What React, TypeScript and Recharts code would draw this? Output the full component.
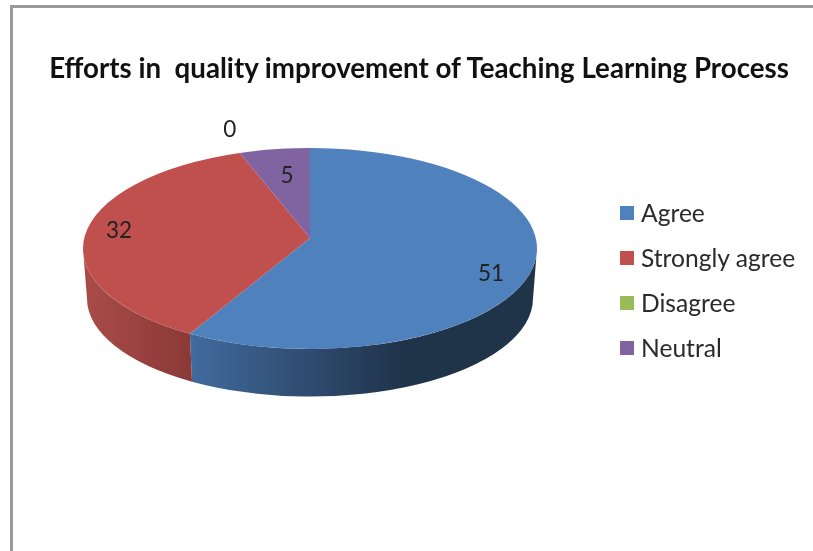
import React from "react";
import { PieChart, Pie, Legend } from "recharts";

const categories = ["Agree", "Strongly agree", "Disagree", "Neutral"];
const values = [51, 32, 0, 5];
const colors = ["#4f81bd", "#c0504d", "#9bbb59", "#8064a2"];
const chartTitle = "Efforts in  quality improvement of Teaching Learning Process";

const data = categories.map((name, i) => ({ name, value: values[i], fill: colors[i] }));

// Drawing style of the tilted disc
const SQUASH = 100.5 / 227;
const APEX_LIFT = 10.5;
const DEPTH = 50;
const BOTTOM_RX_INSET = 4;
const BOTTOM_RY_INSET = 2.5;
const SKEW = 6.9;
const SIDE_STOPS: [number, string][][] = [
  [[0, "#416b9d"], [0.4, "#2c4668"], [0.62, "#1f3349"], [1, "#1f3349"]],
  [[0, "#a94c49"], [1, "#8a3937"]],
  [[0, "#7c9647"], [1, "#7c9647"]],
  [[0, "#665082"], [1, "#665082"]],
];
// Radial placement of each value label (fraction of the rim along x, y)
const LABEL_FIT: [number, number][] = [
  [0.805, 1.77],
  [0.857, 1.0],
  [1.14, 1.26],
  [0.65, 0.75],
];

const RAD = Math.PI / 180;
const toClock = (a: number) => 90 - a;
const warp = (c: number) => c - SKEW * Math.sin(c * RAD);

function rim(cx: number, cy: number, rx: number, ry: number, t: number) {
  return { x: cx + rx * Math.sin(t * RAD), y: cy - ry * Math.cos(t * RAD) };
}

function DiscSlice(props: any) {
  const { cx, cy, outerRadius, startAngle, endAngle, fill, index } = props;
  const c1 = toClock(startAngle);
  const c2 = toClock(endAngle);
  if (Math.abs(c2 - c1) < 0.01) return <g />;
  const t1 = warp(c1);
  const t2 = warp(c2);
  const rx = outerRadius;
  const ry = outerRadius * SQUASH;
  const p1 = rim(cx, cy, rx, ry, t1);
  const p2 = rim(cx, cy, rx, ry, t2);
  const apexY = cy - APEX_LIFT;
  const top = `M${cx},${apexY} L${p1.x},${p1.y} A${rx},${ry} 0 ${t2 - t1 > 180 ? 1 : 0} 1 ${p2.x},${p2.y} Z`;

  const s1 = Math.max(t1, 90);
  const s2 = Math.min(t2, 270);
  let side: React.ReactNode = null;
  if (s2 > s1) {
    const brx = rx - BOTTOM_RX_INSET;
    const bry = ry - BOTTOM_RY_INSET;
    const a = rim(cx, cy, rx, ry, s1);
    const b = rim(cx, cy, rx, ry, s2);
    const c = rim(cx, cy + DEPTH, brx, bry, s2);
    const d = rim(cx, cy + DEPTH, brx, bry, s1);
    const id = `side-${index}`;
    side = (
      <>
        <defs>
          <linearGradient id={id} x1="0" y1="0" x2="1" y2="0">
            {SIDE_STOPS[index].map(([o, col]) => (
              <stop key={o} offset={o} stopColor={col} />
            ))}
          </linearGradient>
        </defs>
        <path
          d={`M${a.x},${a.y} A${rx},${ry} 0 0 1 ${b.x},${b.y} L${c.x},${c.y} A${brx},${bry} 0 0 0 ${d.x},${d.y} Z`}
          fill={`url(#${id})`}
        />
      </>
    );
  }
  return (
    <g>
      {side}
      <path d={top} fill={fill} />
    </g>
  );
}

function SliceLabel(props: any) {
  const { cx, cy, outerRadius, midAngle, value, index } = props;
  const t = warp(toClock(midAngle));
  const [fx, fy] = LABEL_FIT[index];
  const x = cx + outerRadius * fx * Math.sin(t * RAD);
  const y = cy - outerRadius * SQUASH * fy * Math.cos(t * RAD);
  return (
    <text x={x} y={y} textAnchor="middle" dominantBaseline="central" fontFamily="Lato" fontSize={22.5} fill="#222">
      {value}
    </text>
  );
}

function LegendRows({ payload }: any) {
  return (
    <div style={{ fontFamily: "Lato", fontSize: 24.6, color: "#2a2a2a" }}>
      {(payload || []).map((p: any) => (
        <div key={p.value} style={{ display: "flex", alignItems: "center", height: 45, whiteSpace: "nowrap" }}>
          <span style={{ width: 14, height: 14, background: p.color, marginRight: 7, flex: "none" }} />
          <span>{p.value}</span>
        </div>
      ))}
    </div>
  );
}

export default function App() {
  return (
    <div style={{ position: "absolute", left: 0, top: 0, width: 813, height: 551, background: "#fff", overflow: "hidden", filter: "blur(0.45px)" }}>
      <div
        style={{
          position: "absolute",
          left: 10,
          top: 5,
          right: -5,
          bottom: -5,
          borderLeft: "3px solid #9a9a9a",
          borderTop: "3px solid #9a9a9a",
        }}
      />
      <div style={{ position: "absolute", left: 0, top: 0 }}>
        <PieChart width={813} height={551} margin={{ top: 0, right: 0, bottom: 0, left: 0 }}>
          <text
            x={419}
            y={78}
            textAnchor="middle"
            fontFamily="Lato"
            fontWeight={700}
            fontSize={27.7}
            fill="#111"
            style={{ whiteSpace: "pre" }}
          >
            {chartTitle}
          </text>
          <Pie
            data={data}
            dataKey="value"
            nameKey="name"
            cx={310}
            cy={248.5}
            outerRadius={227}
            startAngle={90}
            endAngle={-270}
            stroke="none"
            isAnimationActive={false}
            shape={DiscSlice}
            label={SliceLabel}
            labelLine={false}
          />
          <Legend
            layout="vertical"
            align="right"
            verticalAlign="top"
            itemSorter={null}
            wrapperStyle={{ left: 620, right: "auto", top: 190, width: 190 }}
            content={LegendRows}
          />
        </PieChart>
      </div>
    </div>
  );
}
